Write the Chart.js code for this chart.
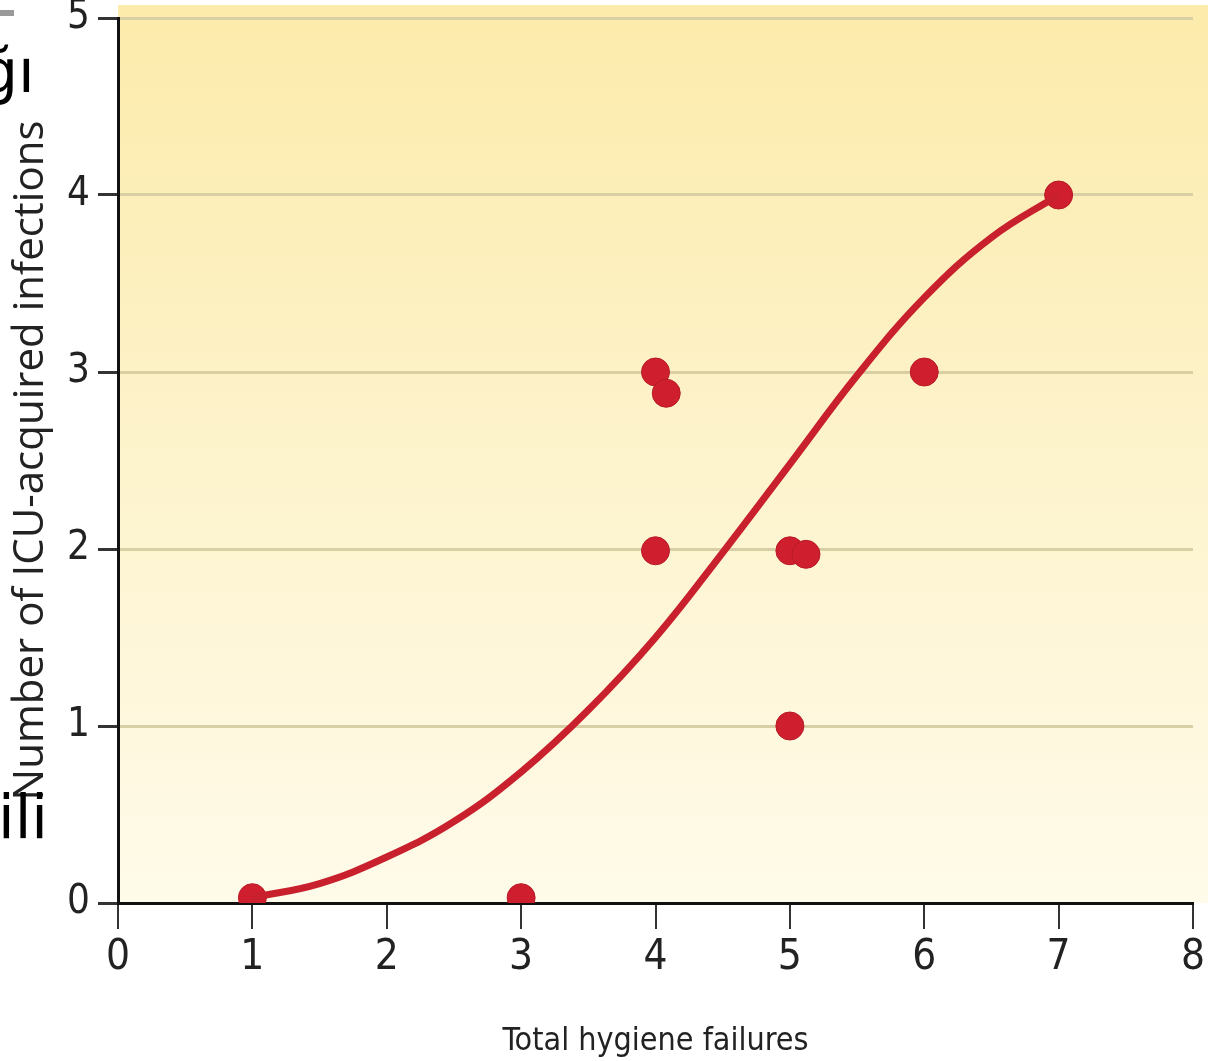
<!DOCTYPE html>
<html>
<head>
<meta charset="utf-8">
<script src="https://cdn.jsdelivr.net/npm/chart.js@4.4.1/dist/chart.umd.min.js"></script>
<style>
  html, body { margin: 0; padding: 0; background: #fff; }
  #wrap { width: 1208px; height: 1061px; position: relative; }
</style>
</head>
<body>
<div id="wrap"><canvas id="hygieneChart"></canvas></div>
<script>
// observed wards: hygiene failures vs ICU-acquired infections
const failures   = [1, 3, 4, 4.08, 4, 5, 5.12, 5, 6, 7];
const infections = [0.03, 0.03, 3.0, 2.88, 1.99, 1.99, 1.97, 1.0, 3.0, 4.0];

// fitted trend curve
const curveX = [1, 1.5, 2, 2.5, 3, 3.5, 4, 4.5, 5, 5.5, 6, 6.5, 7];
const curveY = [0.03, 0.11, 0.26, 0.46, 0.74, 1.09, 1.5, 1.98, 2.48, 2.98, 3.42, 3.76, 4.0];

const xTicks = [0, 1, 2, 3, 4, 5, 6, 7, 8];
const yTicks = [0, 1, 2, 3, 4, 5];

const narrow = '"Liberation Sans Narrow", "DejaVu Sans Condensed", sans-serif';

// yellow panel behind the plot + the bits of slide text cut off on the left
const panelPlugin = {
    id: 'panel',
    beforeDraw(chart) {
        const { ctx, chartArea } = chart;
        const top = 5;
        const g = ctx.createLinearGradient(0, top, 0, chartArea.bottom);
        g.addColorStop(0, '#fcebaa');
        g.addColorStop(0.5, '#fdf3cc');
        g.addColorStop(1, '#fffbea');
        ctx.save();
        ctx.fillStyle = g;
        ctx.fillRect(chartArea.left, top, chart.width - chartArea.left, chartArea.bottom - top);
        ctx.restore();
    },
    afterDraw(chart) {
        const ctx = chart.ctx;
        ctx.save();
        ctx.fillStyle = '#9a9a9a';
        ctx.fillRect(0, 10, 14, 6);
        ctx.fillStyle = '#000';
        ctx.font = '60px "DejaVu Sans", sans-serif';
        ctx.textBaseline = 'alphabetic';
        ctx.fillText('ğı', -20, 92);
        ctx.fillText('ili', -2, 838);
        ctx.restore();
    }
};

const ctx = document.getElementById('hygieneChart').getContext('2d');

const hygieneChart = new Chart(ctx, {
    type: 'scatter',
    data: {
        datasets: [
            {
                label: 'Trend',
                type: 'line',
                data: curveX.map((x, i) => ({ x: x, y: curveY[i] })),
                borderColor: '#c8202c',
                borderWidth: 7,
                pointRadius: 0,
                tension: 0.4,
                fill: false
            },
            {
                label: 'Wards',
                data: failures.map((x, i) => ({ x: x, y: infections[i] })),
                backgroundColor: '#cf1f2e',
                borderColor: '#b81a27',
                borderWidth: 1,
                pointRadius: 14,
                pointHoverRadius: 14
            }
        ]
    },
    options: {
        responsive: true,
        maintainAspectRatio: false,
        animation: false,
        layout: { padding: { top: 18, right: 11, left: 0, bottom: 0 } },
        plugins: {
            legend: { display: false },
            tooltip: { enabled: false }
        },
        scales: {
            x: {
                type: 'linear',
                min: 0,
                max: 8,
                afterBuildTicks: (axis) => { axis.ticks = xTicks.map(v => ({ value: v })); },
                afterFit: (axis) => {
                    axis.height = 158;
                    axis.paddingRight = 0; // let the "8" run to the edge like the original
                },
                border: { color: '#111', width: 3 },
                grid: {
                    drawOnChartArea: false,
                    drawTicks: true,
                    tickLength: 26,
                    tickColor: '#333',
                    lineWidth: 2
                },
                ticks: {
                    color: '#222',
                    padding: 4,
                    font: { family: narrow, size: 42 }
                },
                title: {
                    display: true,
                    text: 'Total hygiene failures',
                    color: '#222',
                    padding: { top: 24, bottom: 0 },
                    font: { family: narrow, size: 32 }
                }
            },
            y: {
                type: 'linear',
                min: 0,
                max: 5,
                afterBuildTicks: (axis) => { axis.ticks = yTicks.map(v => ({ value: v })); },
                afterFit: (axis) => { axis.width = 118; },
                border: { color: '#111', width: 3 },
                grid: {
                    color: '#d9cfa4',
                    lineWidth: 3,
                    drawTicks: true,
                    tickLength: 20,
                    tickColor: '#333'
                },
                ticks: {
                    color: '#222',
                    padding: 8,
                    font: { family: narrow, size: 40, lineHeight: 0.4 }
                },
                title: {
                    display: true,
                    text: 'Number of ICU-acquired infections',
                    color: '#222',
                    padding: { top: 6, bottom: 0 },
                    font: { family: '"Open Sans", sans-serif', size: 42 }
                }
            }
        }
    },
    plugins: [panelPlugin]
});
</script>
</body>
</html>
